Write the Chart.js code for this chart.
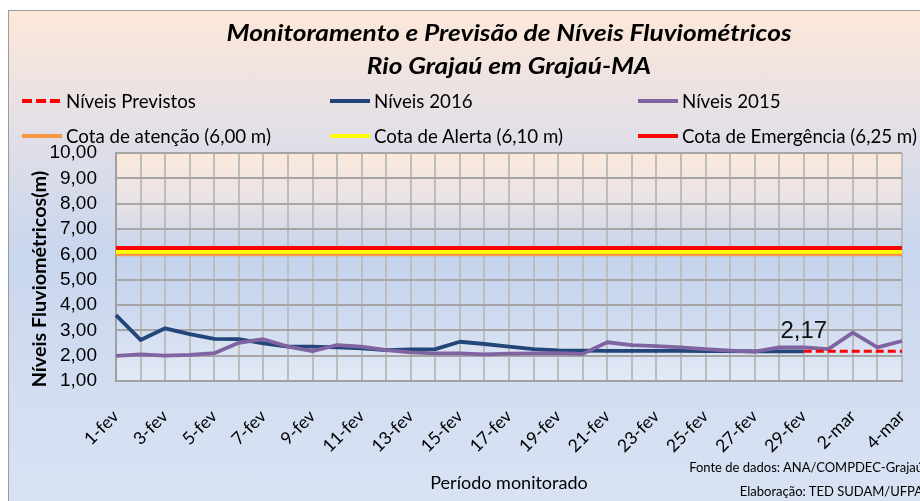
<!DOCTYPE html>
<html><head><meta charset="utf-8">
<script src="https://cdn.jsdelivr.net/npm/chart.js@4/dist/chart.umd.min.js"></script>
<style>
html,body{margin:0;padding:0;width:920px;height:501px;overflow:hidden;background:#fff;}
#wrap{position:absolute;left:8px;top:10px;width:1000px;height:490px;border:1px solid #9c9c9c;
  background:linear-gradient(to bottom,#FDE8D9 0%,#E2DFE7 25%,#C8D6EE 50%,#D2DDF1 75%,#D8E2F3 100%);}
canvas{position:absolute;left:0;top:0;}
#title{position:absolute;left:0;top:4.5px;width:1000px;text-align:center;font-family:Lato,sans-serif;
  font-weight:bold;font-style:italic;font-size:23.5px;line-height:33px;color:#000;
  transform:scaleX(1.117);transform-origin:500px 0;white-space:nowrap;}
#legend{position:absolute;left:0;top:0;font-family:Lato,sans-serif;font-size:18.7px;color:#000;}
.item{position:absolute;display:flex;align-items:center;height:24px;white-space:nowrap;}
.sw{width:40px;height:4px;margin-right:4px;flex:none;}
.foot{position:absolute;left:0;width:914px;text-align:right;font-family:Lato,sans-serif;font-size:13px;color:#000;white-space:nowrap;}
</style></head>
<body>
<div id="wrap">
  <canvas id="c" width="1000" height="490"></canvas>
  <div id="title"></div>
  <div id="legend"></div>
  <div class="foot" id="f1" style="top:448px"></div>
  <div class="foot" id="f2" style="top:472px"></div>
</div>
<script>
const categories = ['1-fev','2-fev','3-fev','4-fev','5-fev','6-fev','7-fev','8-fev','9-fev','10-fev',
  '11-fev','12-fev','13-fev','14-fev','15-fev','16-fev','17-fev','18-fev','19-fev','20-fev',
  '21-fev','22-fev','23-fev','24-fev','25-fev','26-fev','27-fev','28-fev','29-fev',
  '1-mar','2-mar','3-mar','4-mar'];
const niveisPrevistos = [null,null,null,null,null,null,null,null,null,null,
  null,null,null,null,null,null,null,null,null,null,
  null,null,null,null,null,null,null,null,2.17,
  2.17,2.17,2.17,2.17];
const niveis2016 = [3.60,2.62,3.08,2.85,2.66,2.65,2.49,2.36,2.36,2.33,
  2.29,2.22,2.25,2.26,2.55,2.46,2.36,2.26,2.21,2.20,
  2.19,2.19,2.19,2.19,2.18,2.18,2.17,2.17,2.17,
  null,null,null,null];
const niveis2015 = [1.99,2.05,2.00,2.03,2.10,2.51,2.65,2.36,2.18,2.42,
  2.36,2.22,2.13,2.09,2.09,2.05,2.08,2.09,2.10,2.07,
  2.53,2.42,2.38,2.33,2.26,2.20,2.16,2.33,2.33,
  2.26,2.91,2.33,2.58];
const cotaAtencao = 6.00;
const cotaAlerta = 6.10;
const cotaEmergencia = 6.25;
const seriesNames = ['Níveis Previstos','Níveis 2016','Níveis 2015',
  'Cota de atenção (6,00 m)','Cota de Alerta (6,10 m)','Cota de Emergência (6,25 m)'];
const titleLines = ['Monitoramento e Previsão de Níveis Fluviométricos','Rio Grajaú em Grajaú-MA'];
const xAxisTitle = 'Período monitorado';
const yAxisTitle = 'Níveis Fluviométricos(m)';
const yMin = 1, yMax = 10, yStep = 1;
const labelIndex = 28;
const footnotes = ['Fonte de dados: ANA/COMPDEC-Grajaú','Elaboração: TED SUDAM/UFPA'];

const fmt = v => v.toFixed(2).replace('.', ',');

const plotBg = {
  id:'plotBg',
  beforeDraw(chart){
    const {ctx, chartArea:a} = chart;
    const g = ctx.createLinearGradient(0,a.top,0,a.bottom);
    g.addColorStop(0,'#FCE9DB');
    g.addColorStop(0.22,'#E8E2E6');
    g.addColorStop(0.45,'#C4D3EC');
    g.addColorStop(0.7,'#CCD9EF');
    g.addColorStop(1,'#E3EAF6');
    ctx.save(); ctx.fillStyle = g;
    ctx.fillRect(a.left,a.top,a.right-a.left,a.bottom-a.top);
    ctx.restore();
  }
};
const dataLabel = {
  id:'dataLabel',
  afterDatasetsDraw(chart){
    const meta = chart.getDatasetMeta(0);
    const pt = meta.data[labelIndex];
    const v = chart.data.datasets[0].data[labelIndex];
    if(!pt || v == null) return;
    const ctx = chart.ctx;
    ctx.save();
    ctx.font = '24px "Liberation Sans", Arial, sans-serif';
    ctx.fillStyle = '#111';
    ctx.textAlign = 'center';
    ctx.textBaseline = 'bottom';
    ctx.fillText(fmt(v), pt.x, pt.y - 8);
    ctx.restore();
  }
};

const colors = ['#FF0000','#22467A','#8064A2','#F79646','#FFFF00','#FF0000'];
const chart = new Chart(document.getElementById('c'), {
  type:'line',
  data:{
    labels:categories,
    datasets:[
      {label:seriesNames[0], data:niveisPrevistos, borderColor:colors[0], borderWidth:3, borderDash:[8,4], order:0},
      {label:seriesNames[1], data:niveis2016, borderColor:colors[1], borderWidth:3.8, order:2},
      {label:seriesNames[2], data:niveis2015, borderColor:colors[2], borderWidth:3.8, order:1},
      {label:seriesNames[3], data:categories.map(()=>cotaAtencao), borderColor:colors[3], borderWidth:4, order:5},
      {label:seriesNames[4], data:categories.map(()=>cotaAlerta), borderColor:colors[4], borderWidth:4, order:4},
      {label:seriesNames[5], data:categories.map(()=>cotaEmergencia), borderColor:colors[5], borderWidth:4, order:3}
    ]
  },
  options:{
    responsive:false, animation:false, events:[],
    elements:{point:{radius:0,hoverRadius:0}, line:{tension:0,borderCapStyle:'butt',borderJoinStyle:'round',fill:false}},
    layout:{padding:{left:0,right:107,top:142,bottom:0}},
    plugins:{ legend:{display:false}, tooltip:{enabled:false}, title:{display:false} },
    scales:{
      x:{
        grid:{color:'#BDBDBD', lineWidth:2, drawTicks:false},
        border:{color:'#A0A0A0', width:2},
        ticks:{autoSkip:false, maxRotation:45, minRotation:45, padding:25, color:'#000',
          font:{family:'Lato', size:17.5},
          callback:(v,i)=> i%2===0 ? categories[i] : ''},
        title:{display:true, text:xAxisTitle, color:'#000', font:{family:'Lato', size:18}, padding:{top:0,bottom:7}},
        afterFit:s=>{s.height=120;}
      },
      y:{
        min:yMin, max:yMax,
        ticks:{stepSize:yStep, autoSkip:false, padding:19, color:'#000', font:{family:'"Liberation Sans", Arial, sans-serif', size:19}, callback:v=>fmt(v)},
        grid:{color:'#A6A6A6', lineWidth:2, drawTicks:false},
        border:{color:'#A0A0A0', width:2},
        title:{display:true, text:yAxisTitle + '     ', color:'#000', font:{family:'Lato', size:19.8, weight:'bold'}, padding:{top:19,bottom:0}},
        afterFit:s=>{s.width=107;}
      }
    }
  },
  plugins:[plotBg, dataLabel]
});

// title and legend as HTML text, built from the named arrays / datasets
const tEl = document.getElementById('title');
titleLines.forEach(l=>{ const d=document.createElement('div'); d.textContent=l; tEl.appendChild(d); });

const legendPos = [[13,78],[321,78],[629,78],[13,113],[321,113],[629,113]];
const leg = document.getElementById('legend');
chart.data.datasets.forEach((ds,i)=>{
  const it = document.createElement('div');
  it.className = 'item';
  it.style.left = legendPos[i][0]+'px';
  it.style.top = legendPos[i][1]+'px';
  const sw = document.createElement('span');
  sw.className = 'sw';
  if (ds.borderDash) {
    sw.style.background = 'repeating-linear-gradient(to right,'+ds.borderColor+' 0 10px,transparent 10px 14px)';
    sw.style.width = '38px'; sw.style.marginRight='6px';
  } else {
    sw.style.background = ds.borderColor;
  }
  const tx = document.createElement('span');
  tx.textContent = ds.label;
  it.appendChild(sw); it.appendChild(tx);
  leg.appendChild(it);
});
document.getElementById('f1').textContent = footnotes[0];
document.getElementById('f2').textContent = footnotes[1];
</script>
</body></html>
